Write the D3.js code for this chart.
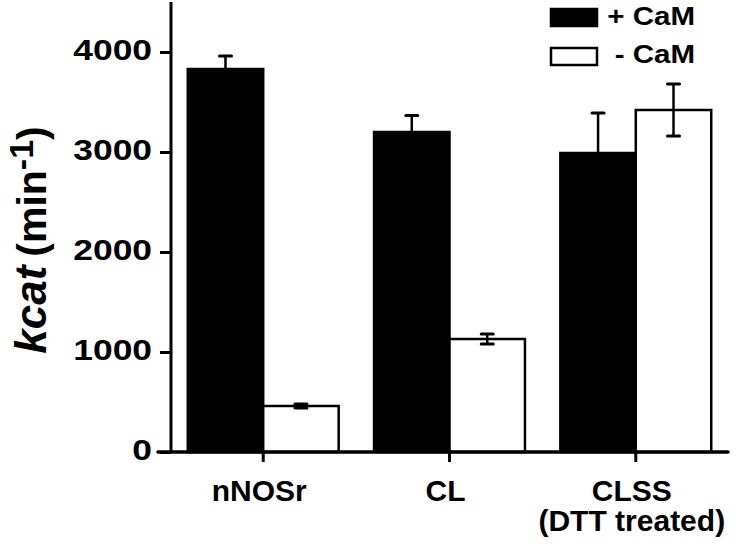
<!DOCTYPE html>
<html>
<head>
<meta charset="utf-8">
<script src="https://cdn.jsdelivr.net/npm/d3@7"></script>
<style>
  body { margin: 0; background: #fff; }
  svg { display: block; font-family: "Liberation Sans", Arial, sans-serif; font-weight: bold; }
</style>
</head>
<body>
<svg id="chart" width="738" height="550"></svg>
<script>
// data
const categories = ['nNOSr', 'CL', 'CLSS'];
const catLines   = [['nNOSr'], ['CL'], ['CLSS', '(DTT treated)']];
const series     = ['+ CaM', '- CaM'];
const plusCaM    = [3830, 3200, 2990];
const plusErr    = [130, 165, 400];
const minusCaM   = [460, 1130, 3420];
const minusErr   = [20, 50, 260];
const yTicks     = [0, 1000, 2000, 3000, 4000];

const svg = d3.select('#chart');
const axisX = 171, baseY = 452;

const y = d3.scaleLinear().domain([0, 4500]).range([baseY, 2]);
const x0 = d3.scaleBand().domain(categories).range([axisX, 728])
  .paddingInner(0.19).paddingOuter(0.09);
const x1 = d3.scaleBand().domain(series).range([0, x0.bandwidth()]);

const rows = categories.map((c, i) => ({
  cat: c,
  vals: [
    { s: series[0], v: plusCaM[i],  e: plusErr[i] },
    { s: series[1], v: minusCaM[i], e: minusErr[i] }
  ]
}));

// bars
const grp = svg.append('g').selectAll('g')
  .data(rows).enter().append('g')
    .attr('transform', d => `translate(${x0(d.cat)},0)`);

grp.selectAll('rect')
  .data(d => d.vals).enter().append('rect')
    .attr('x', d => x1(d.s))
    .attr('y', d => y(d.v))
    .attr('width', x1.bandwidth())
    .attr('height', d => baseY - y(d.v))
    .attr('fill', d => d.s === series[0] ? '#000' : '#fff')
    .attr('stroke', '#000')
    .attr('stroke-width', 2.5);

// error bars
const err = grp.selectAll('g.err')
  .data(d => d.vals).enter().append('g')
    .attr('class', 'err')
    .attr('stroke', '#000');
err.append('line')
  .attr('x1', d => x1(d.s) + x1.bandwidth() / 2)
  .attr('x2', d => x1(d.s) + x1.bandwidth() / 2)
  .attr('y1', d => y(d.v + d.e))
  .attr('y2', d => y(d.v - d.e))
  .attr('stroke-width', 2.5);
[1, -1].forEach(sg => {
  err.append('line')
    .attr('x1', d => x1(d.s) + x1.bandwidth() / 2 - 6)
    .attr('x2', d => x1(d.s) + x1.bandwidth() / 2 + 6)
    .attr('y1', d => y(d.v + sg * d.e))
    .attr('y2', d => y(d.v + sg * d.e))
    .attr('stroke-width', 3)
    .attr('stroke-linecap', 'round');
});

// y axis
const yAxis = svg.append('g')
  .attr('transform', `translate(${axisX},0)`)
  .call(d3.axisLeft(y).tickValues(yTicks).tickSize(11).tickFormat(''));
yAxis.select('.domain').attr('d', `M0,${y(4500)}V${baseY}`).attr('stroke-width', 3);
yAxis.selectAll('.tick line').attr('stroke-width', 3);
yAxis.selectAll('.tick').append('text')
  .attr('transform', 'translate(-19,7) scale(1.18,1)')
  .attr('text-anchor', 'end')
  .attr('fill', '#000')
  .style('font-size', '30px')
  .style('font-family', '"Liberation Sans", Arial, sans-serif')
  .style('font-weight', 'bold')
  .text(d => d);

// x axis
const xAxis = svg.append('g')
  .attr('transform', `translate(0,${baseY})`)
  .call(d3.axisBottom(x0).tickSize(10).tickFormat(''));
xAxis.select('.domain').attr('d', 'M158,0H728').attr('stroke-width', 3.5)
  .attr('stroke-linecap', 'round');
xAxis.selectAll('.tick line').attr('stroke-width', 3);
xAxis.selectAll('.tick').each(function(d, i) {
  const t = d3.select(this).append('text')
    .attr('text-anchor', 'middle')
    .attr('fill', '#000')
    .style('font-size', '30px')
    .style('font-family', '"Liberation Sans", Arial, sans-serif')
    .style('font-weight', 'bold');
  catLines[i].forEach((ln, j) => {
    t.append('tspan').attr('x', -4).attr('y', 49 + j * 30).text(ln);
  });
});

// y label
const yl = svg.append('text')
  .attr('transform', 'translate(46,240) rotate(-90)')
  .attr('text-anchor', 'middle')
  .attr('fill', '#000');
yl.append('tspan').style('font-size', '44px').style('font-style', 'italic').text('kcat');
yl.append('tspan').style('font-size', '41px').attr('dx', 9).text('(min');
yl.append('tspan').style('font-size', '34px').attr('dy', -13).text('-1');
yl.append('tspan').style('font-size', '41px').attr('dy', 13).text(')');

// legend
const lg = svg.append('g');
series.forEach((s, i) => {
  lg.append('rect')
    .attr('x', 551).attr('y', 9 + i * 39)
    .attr('width', 46).attr('height', 17)
    .attr('fill', i === 0 ? '#000' : '#fff')
    .attr('stroke', '#000').attr('stroke-width', 2.5);
  lg.append('text')
    .attr('transform', `translate(695,${25 + i * 38}) scale(1.18,1)`)
    .attr('text-anchor', 'end')
    .style('font-size', '25px')
    .text(s);
});
</script>
</body>
</html>
